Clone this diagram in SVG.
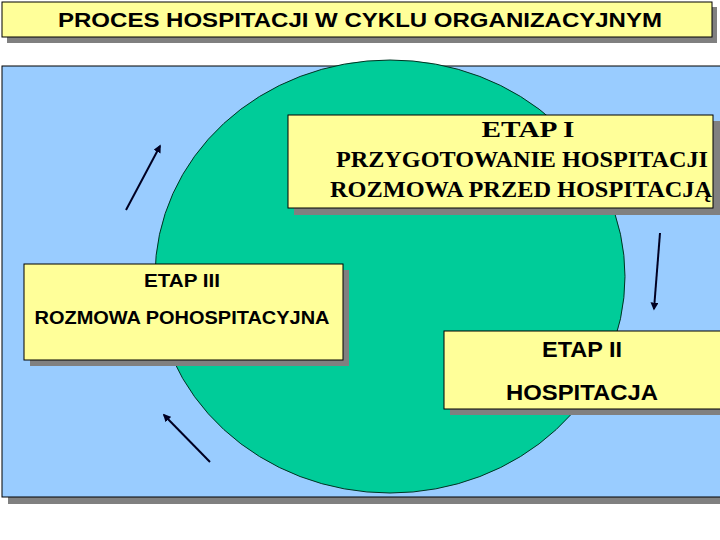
<svg xmlns="http://www.w3.org/2000/svg" width="720" height="540" viewBox="0 0 720 540">
<style>
.box{fill:#FFFF99;stroke:#000;stroke-width:1}
.shadow{fill:#808080}
.sans{font-family:"Liberation Sans",Arial,sans-serif;font-weight:bold;fill:#000;text-anchor:middle}
.serif{font-family:"Liberation Serif","Times New Roman",serif;font-weight:bold;fill:#000;text-anchor:middle}
.arrow{stroke:#000022;stroke-width:2;fill:none;marker-end:url(#ah)}
</style>
<defs>
<marker id="ah" viewBox="0 0 10 10" refX="8" refY="5" markerWidth="4" markerHeight="4" orient="auto" markerUnits="strokeWidth">
<path d="M0,0 L10,5 L0,10 z" fill="#000022"/>
</marker>
</defs>
<rect width="720" height="540" fill="#fff"/>
<g id="title">
<rect class="shadow" x="7" y="7" width="710" height="36"/>
<rect class="box" x="2" y="2" width="710" height="35"/>
<text class="sans" x="360" y="27" font-size="21" textLength="604" lengthAdjust="spacingAndGlyphs">PROCES HOSPITACJI W CYKLU ORGANIZACYJNYM</text>
</g>
<g id="panel">
<rect class="shadow" x="8" y="72" width="720" height="432"/>
<rect x="2" y="66" width="725" height="431" fill="#99CCFF" stroke="#000" stroke-width="1"/>
</g>
<g id="cycle">
<ellipse cx="390" cy="276.5" rx="235" ry="216.5" fill="#00CC99" stroke="#003322" stroke-width="1"/>
</g>
<g id="connectors">
<line class="arrow" x1="126" y1="210" x2="160" y2="146"/>
<line class="arrow" x1="660" y1="233" x2="654" y2="309"/>
<line class="arrow" x1="210" y1="462" x2="164" y2="415"/>
</g>
<g id="etap1">
<rect class="shadow" x="294" y="121" width="426" height="94"/>
<rect class="box" x="288" y="115" width="425" height="93"/>
<text class="serif" x="528" y="137" font-size="23.5" textLength="93" lengthAdjust="spacingAndGlyphs">ETAP I</text>
<text class="serif" x="522" y="167" font-size="23.5" textLength="372" lengthAdjust="spacingAndGlyphs">PRZYGOTOWANIE HOSPITACJI</text>
<text class="serif" x="521" y="197" font-size="23.5" textLength="382" lengthAdjust="spacingAndGlyphs">ROZMOWA PRZED HOSPITACJĄ</text>
</g>
<g id="etap3">
<rect class="shadow" x="30" y="270" width="319" height="96"/>
<rect class="box" x="24" y="264" width="319" height="96"/>
<text class="sans" x="182" y="287" font-size="19" textLength="76" lengthAdjust="spacingAndGlyphs">ETAP III</text>
<text class="sans" x="182" y="324" font-size="19" textLength="295" lengthAdjust="spacingAndGlyphs">ROZMOWA POHOSPITACYJNA</text>
</g>
<g id="etap2">
<rect class="shadow" x="450" y="337" width="280" height="78"/>
<rect class="box" x="444" y="331" width="285" height="78"/>
<text class="sans" x="582" y="357" font-size="22.5" textLength="80" lengthAdjust="spacingAndGlyphs">ETAP II</text>
<text class="sans" x="582" y="400" font-size="22.5" textLength="152" lengthAdjust="spacingAndGlyphs">HOSPITACJA</text>
</g>
</svg>
